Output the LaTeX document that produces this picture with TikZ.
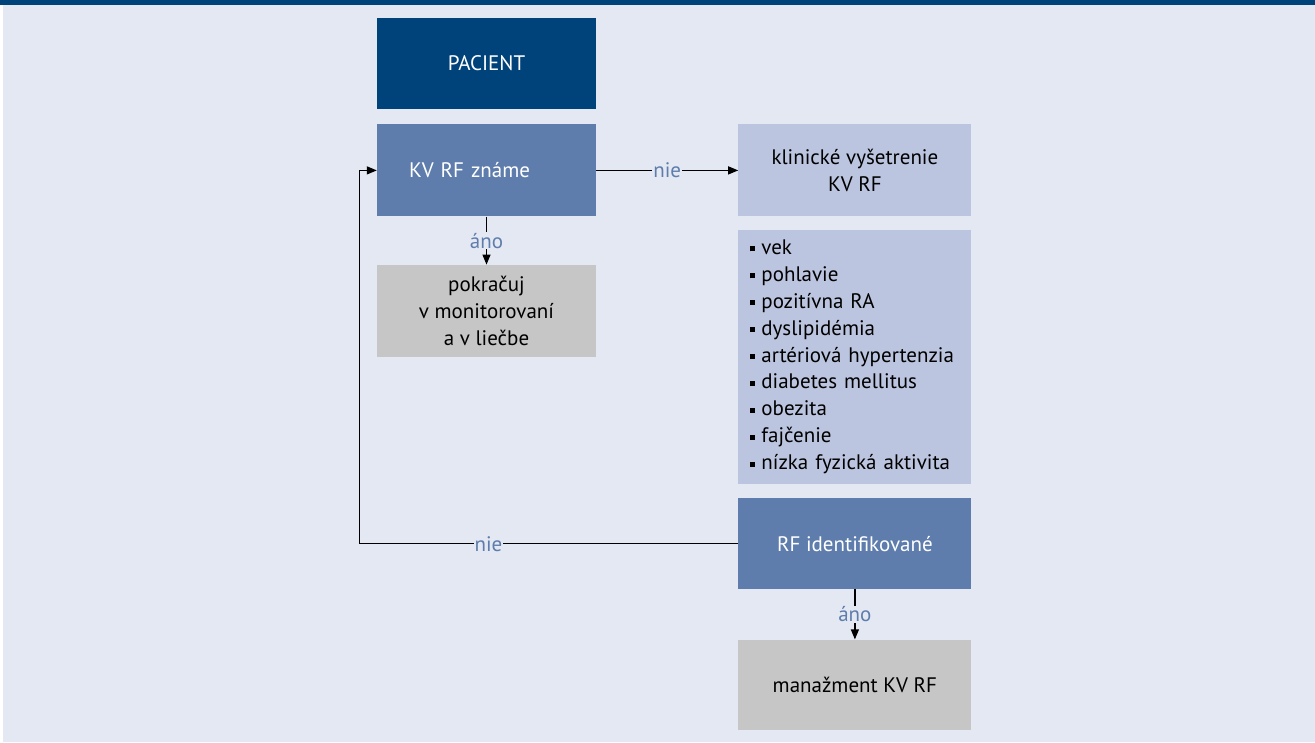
\documentclass[tikz,border=0pt]{standalone}
\usepackage{fontspec}
\setmainfont{PT Sans}
\usetikzlibrary{positioning,arrows.meta}

\definecolor{bgblue}{HTML}{E3E8F2}
\definecolor{darkblue}{HTML}{00427A}
\definecolor{midblue}{HTML}{5E7DAC}
\definecolor{paleblue}{HTML}{BCC5E0}
\definecolor{boxgray}{HTML}{C6C6C6}

\newcommand{\sqbullet}{\rule[3pt]{5pt}{5pt}\hspace{6pt}}

\begin{document}
\begin{tikzpicture}[x=1pt,y=-1pt,
    txt/.style={font=\fontsize{21}{26.9}\selectfont},
    box/.style={txt,inner sep=0pt,minimum height=92pt,align=center},
    dark/.style={box,fill=darkblue,text=white,minimum width=219pt},
    mid/.style={box,fill=midblue,text=white},
    pale/.style={box,fill=paleblue,text=black,minimum width=233pt},
    grey/.style={box,fill=boxgray,text=black},
    lbl/.style={txt,fill=bgblue,text=midblue,inner xsep=1pt,inner ysep=1pt},
    conn/.style={line width=1.2pt,-{Triangle[length=10pt,width=8pt]}}]
  \useasboundingbox (0,0) rectangle (1315,742);
  \fill[bgblue] (3,5) rectangle (1315,742);
  \fill[darkblue] (0,0) rectangle (1315,5);

  \node[dark,minimum height=91pt] (pacient) at (486.5,63.5) {PACIENT};
  \node[mid,below=15pt of pacient,align=left,text width=155pt,inner xsep=32pt] (kvrf) {KV RF známe};
  \node[grey,below=48pt of kvrf,minimum width=219pt] (pokr) {pokračuj\\v monitorovaní\\a v liečbe};
  \node[pale,right=142pt of kvrf] (klin) {klinické vyšetrenie\\KV RF};
  \node[pale,below=13pt of klin,minimum height=254pt,align=left,text width=209pt,inner xsep=12pt] (rizika) {%
    \sqbullet vek\\
    \sqbullet pohlavie\\
    \sqbullet pozitívna RA\\
    \sqbullet dyslipidémia\\
    \sqbullet artériová hypertenzia\\
    \sqbullet diabetes mellitus\\
    \sqbullet obezita\\
    \sqbullet fajčenie\\
    \sqbullet nízka fyzická aktivita};
  \node[mid,below=14pt of rizika,minimum width=233pt,minimum height=91pt] (rfid) {RF identifikované};
  \node[grey,below=50pt of rfid,minimum width=233pt,minimum height=90pt] (manaz) {manažment KV RF};
  \coordinate[left=17pt of kvrf.west] (spat);

  \draw[conn] (kvrf.east) -- node[lbl]{nie} (klin.west);
  \draw[conn] (kvrf.south) -- node[lbl]{áno} (pokr.north);
  \draw[conn] (rfid.west) -- node[lbl,pos=0.66]{nie} (rfid.west -| spat) -- (spat) -- (kvrf.west);
  \draw[conn] (rfid.south) -- node[lbl]{áno} (manaz.north);
\end{tikzpicture}
\end{document}
